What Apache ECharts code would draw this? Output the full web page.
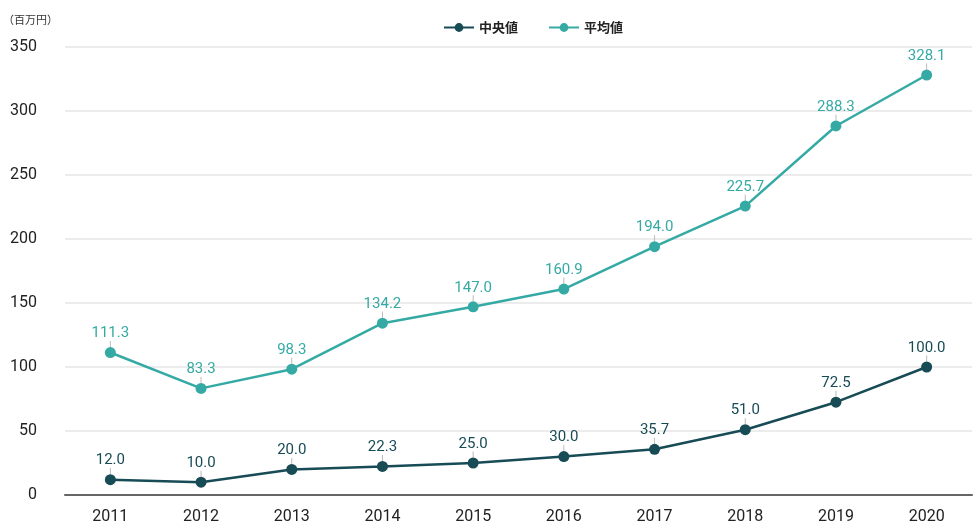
<!DOCTYPE html>
<html>
<head>
<meta charset="utf-8">
<script src="https://cdn.jsdelivr.net/npm/echarts@6/dist/echarts.min.js"></script>
<style>
  html, body { margin: 0; padding: 0; background: #fff; }
  #chart { width: 975px; height: 527px; }
</style>
</head>
<body>
<div id="chart"></div>
<script>
const years = ['2011', '2012', '2013', '2014', '2015', '2016', '2017', '2018', '2019', '2020']
const median = [12.0, 10.0, 20.0, 22.3, 25.0, 30.0, 35.7, 51.0, 72.5, 100.0]
const mean = [111.3, 83.3, 98.3, 134.2, 147.0, 160.9, 194.0, 225.7, 288.3, 328.1]

const darkColor = '#174b55'
const lightColor = '#35aaa4'
const font = 'Roboto, "Noto Sans CJK JP", sans-serif'

const chart = echarts.init(document.getElementById('chart'))

function lineSeries(name, data, color) {
  return {
    name: name,
    type: 'line',
    data: data,
    symbol: 'circle',
    symbolSize: 11,
    lineStyle: { color: color, width: 2.5 },
    itemStyle: { color: color },
    label: {
      show: true,
      position: 'top',
      distance: 2,
      color: color,
      fontSize: 15,
      fontFamily: font,
      formatter: p => p.value.toFixed(1)
    },
    labelLayout: { dy: -4 },
    labelLine: { show: true, length2: 0, lineStyle: { color: '#bbb', width: 1 } }
  }
}

chart.setOption({
  animation: false,
  textStyle: { fontFamily: font },
  legend: {
    top: 16,
    left: 438,
    itemWidth: 30,
    itemHeight: 11,
    itemGap: 30,
    textStyle: { color: '#222', fontSize: 13, fontWeight: 'bold', fontFamily: '"Noto Sans CJK JP", sans-serif' },
    data: ['中央値', '平均値']
  },
  grid: { left: 65, right: 3, top: 47, bottom: 32 },
  xAxis: {
    type: 'category',
    data: years,
    boundaryGap: true,
    axisTick: { show: false },
    axisLine: { lineStyle: { color: '#666', width: 2 } },
    axisLabel: { color: '#222', fontSize: 16, margin: 14, fontFamily: font }
  },
  yAxis: {
    type: 'value',
    min: 0,
    max: 350,
    interval: 50,
    name: '（百万円）',
    nameLocation: 'end',
    nameGap: 22,
    nameTextStyle: { color: '#333', fontSize: 11, fontFamily: '"Noto Sans CJK JP", sans-serif', align: 'left', padding: [0, 0, 0, -62] },
    axisLine: { show: false },
    axisTick: { show: false },
    axisLabel: { color: '#222', fontSize: 16, margin: 28, fontFamily: font },
    splitLine: { lineStyle: { color: '#e6e6e6', width: 1.5 } }
  },
  series: [
    lineSeries('中央値', median, darkColor),
    lineSeries('平均値', mean, lightColor)
  ]
})
</script>
</body>
</html>
